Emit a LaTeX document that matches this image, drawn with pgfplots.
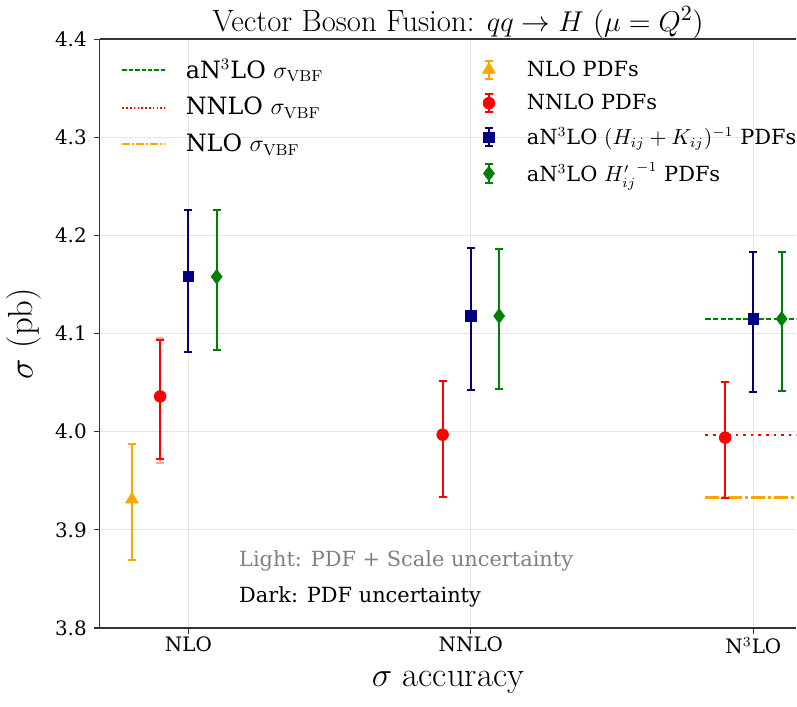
\documentclass[border=0pt]{standalone}
\usepackage{pgfplots}
\pgfplotsset{compat=1.18}
\usepackage{fontspec}
\newfontfamily\dejavu{DejaVu Serif}
\definecolor{mplorange}{RGB}{255,165,0}
\definecolor{mplnavy}{RGB}{0,0,128}
\definecolor{mplgreen}{RGB}{0,128,0}
\definecolor{gridgray}{RGB}{230,230,230}

\pgfplotsset{
  errstyle/.style={
    error bars/.cd, y dir=both, y explicit,
    error bar style={line width=1.1bp, #1},
    error mark options={line width=1bp, mark size=2bp, rotate=90, #1}
  },
  barlegend/.style={
    legend image code/.code={
      \path[draw=none, fill=none] (0cm,0cm) -- (0.78cm,0cm);
      \draw[##1, mark=none, line width=1.1bp] (0.18cm,-0.16cm) -- (0.18cm,0.16cm);
      \draw[##1, mark=none, line width=1bp] (0.11cm,-0.16cm) -- (0.25cm,-0.16cm)
        (0.11cm,0.16cm) -- (0.25cm,0.16cm);
      \draw[##1] plot coordinates {(0.18cm,0cm)};
    }
  },
  common/.style={
    scale only axis, width=349bp, height=295bp,
    xmin=-0.314, xmax=2.152, ymin=3.8, ymax=4.4,
  }
}

\begin{document}
\begin{tikzpicture}
\begin{axis}[
  common,
  axis x line*=box, axis y line*=left,
  x axis line style={-}, y axis line style={-},
  axis line style={black!80, line width=0.7bp},
  xtick pos=bottom, ytick pos=left,
  tick align=outside, major tick length=3bp,
  tick style={black!80, line width=0.6bp},
  xtick={0,1,2},
  xticklabels={NLO, NNLO, N$^3$LO},
  ytick={3.8,3.9,4.0,4.1,4.2,4.3,4.4},
  yticklabel style={/pgf/number format/.cd, fixed, fixed zerofill, precision=1, assume math mode=true},
  tick label style={font=\dejavu\fontsize{10}{12}\selectfont},
  xticklabel style={yshift=2bp},
  xmajorgrids, ymajorgrids,
  grid style={gridgray, line width=0.6bp},
  title={Vector Boson Fusion: $qq\to H\ (\mu=Q^2)$},
  title style={font=\fontsize{15.5}{18}\selectfont, yshift=-9bp, xshift=5bp},
  xlabel={$\sigma$ accuracy},
  ylabel={$\sigma$ (pb)},
  label style={font=\fontsize{17.5}{20}\selectfont},
  xlabel style={yshift=-2bp},
  legend style={at={(rel axis cs:0.535,0.978)}, anchor=north west, draw=none, fill=none,
    font=\dejavu\fontsize{10.5}{13}\selectfont, row sep=3.5bp, overlay},
  legend cell align=left,
  barlegend,
]
% reference lines at N3LO
\addplot[forget plot, mplgreen, line width=1.1bp, dash pattern=on 2.6bp off 1.2bp]
  coordinates {(1.83,4.115) (2.6,4.115)};
\addplot[forget plot, red, line width=1.1bp, dash pattern=on 1.3bp off 2.5bp]
  coordinates {(1.83,3.997) (2.6,3.997)};
\addplot[forget plot, mplorange, line width=1.2bp, dash pattern=on 7bp off 1.5bp on 1.5bp off 1.5bp]
  coordinates {(1.83,3.933) (2.6,3.933)};

% light bars: PDF + scale uncertainty
\addplot[forget plot, only marks, mark=none, errstyle={red!35}]
  coordinates {(-0.1,4.036) += (0,0.060) -= (0,0.068)};

% dark bars: PDF uncertainty
\addplot[only marks, mark=triangle*, mark size=3.6bp, color=mplorange, errstyle={mplorange}]
  coordinates {(-0.2,3.931) += (0,0.057) -= (0,0.062)};
\addlegendentry{NLO PDFs}
\addplot[only marks, mark=*, mark size=2.9bp, color=red, errstyle={red}]
  coordinates {
    (-0.1,4.036) += (0,0.057) -= (0,0.064)
    (0.9,3.997) += (0,0.055) -= (0,0.063)
    (1.9,3.994) += (0,0.057) -= (0,0.062)
  };
\addlegendentry{NNLO PDFs}
\addplot[only marks, mark=square*, mark size=2.6bp, color=mplnavy, errstyle={mplnavy}]
  coordinates {
    (0,4.158) += (0,0.068) -= (0,0.077)
    (1,4.118) += (0,0.069) -= (0,0.075)
    (2,4.115) += (0,0.068) -= (0,0.075)
  };
\addlegendentry{aN$^3$LO $(H_{ij}+K_{ij})^{-1}$ PDFs}
\addplot[only marks, mark=diamond*, mark size=3.6bp, color=mplgreen, errstyle={mplgreen}]
  coordinates {
    (0.1,4.158) += (0,0.068) -= (0,0.075)
    (1.1,4.118) += (0,0.068) -= (0,0.074)
    (2.1,4.115) += (0,0.068) -= (0,0.073)
  };
\addlegendentry{aN$^3$LO ${H'_{ij}}^{-1}$ PDFs}

\node[anchor=west, font=\dejavu\fontsize{10.5}{12}\selectfont, text=black!50]
  at (axis cs:0.155,3.868) {Light: PDF + Scale uncertainty};
\node[anchor=west, font=\dejavu\fontsize{10.5}{12}\selectfont, text=black]
  at (axis cs:0.155,3.832) {Dark: PDF uncertainty};
\end{axis}

% second axis only for the line legend
\begin{axis}[
  common, hide axis,
  legend style={at={(rel axis cs:0.022,0.98)}, anchor=north west, draw=none, fill=none,
    font=\dejavu\fontsize{12}{14}\selectfont, row sep=4bp, overlay},
  legend cell align=left,
  legend image code/.code={\draw[#1] (0cm,0cm) -- (0.76cm,0cm); \path[draw=none] (0cm,0cm) -- (1.05cm,0cm);},
]
\addlegendimage{mplgreen, line width=1bp, dash pattern=on 2.2bp off 1bp}
\addlegendentry{aN$^3$LO $\sigma_{\mathrm{VBF}}$}
\addlegendimage{red, line width=1bp, dash pattern=on 0.8bp off 1.1bp}
\addlegendentry{NNLO $\sigma_{\mathrm{VBF}}$}
\addlegendimage{mplorange, line width=1.1bp, dash pattern=on 4bp off 1bp on 0.9bp off 1bp}
\addlegendentry{NLO $\sigma_{\mathrm{VBF}}$}
\end{axis}
% a little room below the x label
\path (current bounding box.south) ++(0,-3bp);
\end{tikzpicture}
\end{document}
